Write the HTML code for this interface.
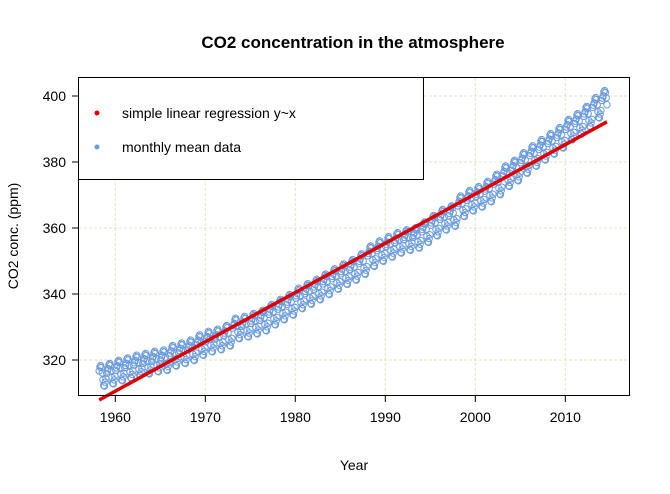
<!DOCTYPE html>
<html><head><meta charset="utf-8"><style>
body{margin:0;background:#fff}
svg{display:block;font-family:"Liberation Sans",Arial,sans-serif}
</style></head><body>
<svg id="chart" width="670" height="494" viewBox="0 0 670 494">
<text x="353" y="48" text-anchor="middle" font-size="17" font-weight="bold">CO2 concentration in the atmosphere</text>
<g id="grid"></g>
<g id="points"></g>
<g id="line"></g>
<rect x="78.5" y="77.5" width="551" height="318" fill="none" stroke="#000"/>
<g id="axes"></g>
<text x="354" y="470" text-anchor="middle" font-size="14">Year</text>
<text transform="translate(18,236) rotate(-90)" text-anchor="middle" font-size="14">CO2 conc. (ppm)</text>
<g>
<rect x="78.5" y="77.5" width="345" height="102" fill="#fff" stroke="#000"/>
<circle cx="97" cy="113" r="2.5" fill="#e00000"/>
<text x="122" y="118" font-size="14">simple linear regression y~x</text>
<circle cx="97" cy="147" r="2.5" fill="#6a9be0"/>
<text x="122" y="152" font-size="14">monthly mean data</text>
</g>
</svg>
<script>
const years=[1958,1959,1960,1961,1962,1963,1964,1965,1966,1967,1968,1969,1970,1971,1972,1973,1974,1975,1976,1977,1978,1979,1980,1981,1982,1983,1984,1985,1986,1987,1988,1989,1990,1991,1992,1993,1994,1995,1996,1997,1998,1999,2000,2001,2002,2003,2004,2005,2006,2007,2008,2009,2010,2011,2012,2013,2014];
const annualMean=[315.3,315.97,316.91,317.64,318.45,318.99,319.62,320.04,321.38,322.16,323.04,324.62,325.68,326.32,327.45,329.68,330.18,331.11,332.04,333.83,335.40,336.84,338.75,340.11,341.45,343.05,344.65,346.12,347.42,349.19,351.57,353.12,354.39,355.61,356.45,357.10,358.83,360.82,362.61,363.73,366.70,368.38,369.55,371.14,373.28,375.80,377.52,379.80,381.90,383.79,385.60,387.43,389.90,391.65,393.85,396.52,398.65];
const seasonal=[0.0,0.7,1.4,2.6,3.0,2.4,0.8,-1.3,-3.0,-3.2,-2.0,-0.9];
const xTicks=[1960,1970,1980,1990,2000,2010];
const yTicks=[320,340,360,380,400];
const NS="http://www.w3.org/2000/svg";
const X=t=>115.3+(t-1960)*9;
const Y=v=>360-(v-320)*3.3;
function mk(tag,at,parent){const e=document.createElementNS(NS,tag);for(const k in at)e.setAttribute(k,at[k]);document.getElementById(parent).appendChild(e);return e;}
// data
const pts=[];
years.forEach((yr,i)=>{seasonal.forEach((s,m)=>{
  if(yr===1958&&m<2)return; if(yr===2014&&m>7)return;
  pts.push([yr+(m+0.5)/12,annualMean[i]+s]);});});
// grid
xTicks.forEach(t=>{const l=mk('line',{x1:X(t),x2:X(t),y1:78,y2:395,stroke:'#e6e2c6','stroke-dasharray':'3,2'},'grid');
});
yTicks.forEach(t=>{const l=mk('line',{x1:79,x2:629,y1:Y(t),y2:Y(t),stroke:'#e6e2c6','stroke-dasharray':'3,2'},'grid');
});
// points
pts.forEach(p=>{const c=mk('circle',{cx:X(p[0]),cy:Y(p[1]),r:3.2,fill:'none',stroke:'#6a9be0','stroke-width':1},'points');
});
// regression
let n=pts.length,sx=0,sy=0,sxx=0,sxy=0;pts.forEach(p=>{sx+=p[0];sy+=p[1];sxx+=p[0]*p[0];sxy+=p[0]*p[1];});
const b=(n*sxy-sx*sy)/(n*sxx-sx*sx),a=(sy-b*sx)/n;
const x0=pts[0][0],x1=pts[n-1][0];
const rl=mk('line',{x1:X(x0),y1:Y(a+b*x0),x2:X(x1),y2:Y(a+b*x1),stroke:'#e00000','stroke-width':3.5},'line');

// axes
xTicks.forEach(t=>{const l=mk('line',{x1:X(t),x2:X(t),y1:396,y2:402,stroke:'#000'},'axes');

const tx=mk('text',{x:X(t),y:422,'text-anchor':'middle','font-size':14},'axes');tx.textContent=t;
});
yTicks.forEach(t=>{const l=mk('line',{x1:72,x2:78,y1:Y(t),y2:Y(t),stroke:'#000'},'axes');

const tx=mk('text',{x:66,y:Y(t)+5,'text-anchor':'end','font-size':14},'axes');tx.textContent=t;
});
</script>
</body></html>
